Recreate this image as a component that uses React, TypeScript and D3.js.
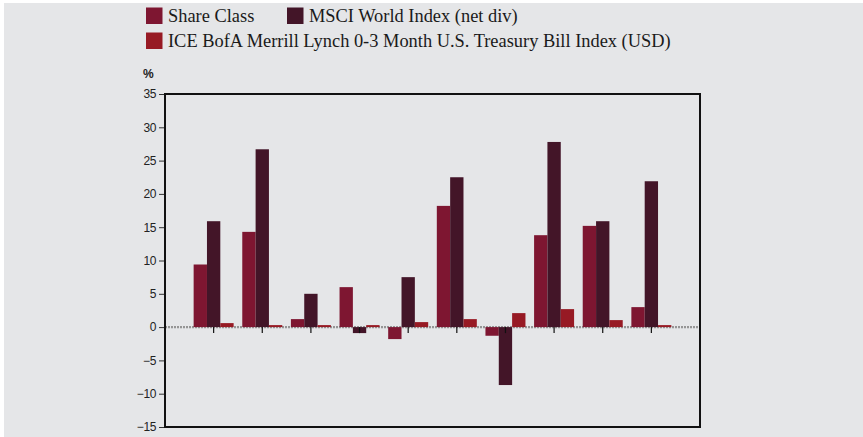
import React, { useRef, useEffect } from 'react';
import * as d3 from 'd3';

// ten annual periods (no labels shown on the axis)
const periods = ['P1', 'P2', 'P3', 'P4', 'P5', 'P6', 'P7', 'P8', 'P9', 'P10'];

const seriesNames = [
  'Share Class',
  'MSCI World Index (net div)',
  'ICE BofA Merrill Lynch 0-3 Month U.S. Treasury Bill Index (USD)',
];

const shareClass = [9.4, 14.3, 1.2, 6.0, -1.8, 18.2, -1.3, 13.8, 15.2, 3.0];
const msciWorld = [15.9, 26.7, 5.0, -0.9, 7.5, 22.5, -8.7, 27.8, 15.9, 21.9];
const iceBofa = [0.6, 0.3, 0.3, 0.3, 0.75, 1.2, 2.1, 2.7, 1.05, 0.3];

const yTicks = [35, 30, 25, 20, 15, 10, 5, 0, -5, -10, -15];

const COLORS = ['#7e1631', '#431528', '#971a24'];

const App: React.FC = () => {
  const svgRef = useRef<SVGSVGElement | null>(null);

  useEffect(() => {
    if (!svgRef.current) return;
    const width = 863;
    const height = 437;
    const plot = { left: 165, right: 700, top: 94, bottom: 427 };

    d3.select(svgRef.current).selectAll('*').remove();
    const svg = d3.select(svgRef.current).attr('width', width).attr('height', height);

    // background
    svg.append('rect')
      .attr('x', 4).attr('y', 3)
      .attr('width', width - 4).attr('height', height - 3)
      .attr('fill', '#e5e6e8');

    const x = d3.scalePoint<string>()
      .domain(periods)
      .range([plot.left, plot.right])
      .padding(1);

    const inner = d3.scaleBand<number>()
      .domain([0, 1, 2])
      .range([-20, 20]);

    const y = d3.scaleLinear()
      .domain([-15, 35])
      .range([plot.bottom, plot.top]);

    // zero line (dotted)
    svg.append('line')
      .attr('x1', plot.left).attr('x2', plot.right)
      .attr('y1', y(0)).attr('y2', y(0))
      .attr('stroke', '#959595')
      .attr('stroke-width', 2.2)
      .attr('stroke-dasharray', '2,1');

    // bars
    const allSeries = [shareClass, msciWorld, iceBofa];
    allSeries.forEach((vals, si) => {
      svg.append('g')
        .selectAll('rect')
        .data(vals)
        .enter()
        .append('rect')
        .attr('x', (_, i) => (x(periods[i]) || 0) + (inner(si) || 0))
        .attr('width', inner.bandwidth())
        .attr('y', d => y(Math.max(0, d)))
        .attr('height', d => Math.abs(y(d) - y(0)))
        .attr('fill', COLORS[si]);
    });

    // x tick marks on zero line
    svg.append('g')
      .selectAll('line')
      .data(periods)
      .enter()
      .append('line')
      .attr('x1', d => x(d) || 0)
      .attr('x2', d => x(d) || 0)
      .attr('y1', y(0))
      .attr('y2', y(0) + 6)
      .attr('stroke', '#111')
      .attr('stroke-width', 1.2);

    // y axis
    const yAxis = d3.axisLeft(y).tickValues(yTicks).tickSize(6).tickPadding(3);
    const yg = svg.append('g')
      .attr('transform', `translate(${plot.left},0)`)
      .call(yAxis);
    yg.select('.domain').remove();
    yg.selectAll('.tick line').attr('stroke', '#333');
    yg.selectAll('.tick text')
      .attr('fill', '#222')
      .attr('font-family', 'Liberation Sans, Arial, sans-serif')
      .attr('font-size', '12px')
      .attr('letter-spacing', '-0.4px');

    // frame
    svg.append('rect')
      .attr('x', plot.left).attr('y', plot.top)
      .attr('width', plot.right - plot.left)
      .attr('height', plot.bottom - plot.top)
      .attr('fill', 'none')
      .attr('stroke', '#111')
      .attr('stroke-width', 2);

    // unit label
    svg.append('text')
      .attr('x', 143).attr('y', 78)
      .attr('font-family', 'Liberation Sans, Arial, sans-serif')
      .attr('font-size', '12px')
      .attr('font-weight', 'bold')
      .attr('fill', '#222')
      .text('%');

    // legend
    const legendPos = [
      { x: 146, y: 7.5 },
      { x: 287, y: 7.5 },
      { x: 146, y: 32.5 },
    ];
    seriesNames.forEach((name, i) => {
      const p = legendPos[i];
      svg.append('rect')
        .attr('x', p.x).attr('y', p.y)
        .attr('width', 16.5).attr('height', 16.5)
        .attr('fill', COLORS[i]);
      svg.append('text')
        .attr('x', p.x + 22).attr('y', p.y + 14.5)
        .attr('font-family', 'Liberation Serif, Times New Roman, serif')
        .attr('font-size', '18.4px')
        .attr('fill', '#1a1a1a')
        .text(name);
    });
  }, []);

  return (
    <svg
      ref={svgRef}
      style={{ position: 'absolute', left: 0, top: 0, display: 'block', background: '#ffffff' }}
    />
  );
};

export default App;
